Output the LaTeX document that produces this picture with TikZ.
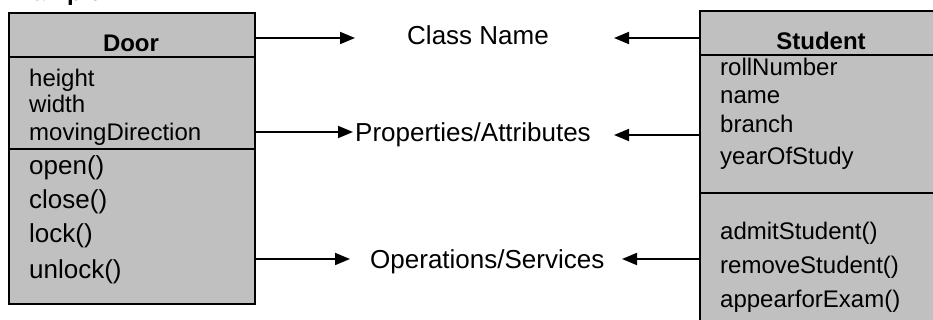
\documentclass[tikz,border=0pt]{standalone}
\usepackage{fontspec}
\setmainfont{Liberation Sans}
\usetikzlibrary{arrows.meta}
\definecolor{boxgray}{HTML}{C0C0C0}
\newcommand\membfont{\fontsize{24}{28}\selectfont}
\newcommand\opfont{\fontsize{26}{30}\selectfont}
\begin{document}
\begin{tikzpicture}[x=1pt,y=-1pt,
  classbox/.style={draw=black, line width=2pt, fill=boxgray, inner sep=0pt, anchor=north west},
  sepline/.style={line width=2pt},
  title/.style={anchor=base, inner sep=0pt, font=\membfont\bfseries},
  member/.style={anchor=base west, inner sep=0pt, font=\membfont},
  doorop/.style={anchor=base west, inner sep=0pt, font=\opfont},
  role/.style={anchor=base west, inner sep=0pt, font=\opfont},
  link/.style={line width=1.8pt, -{Triangle[length=15pt,width=12pt]}}]
\useasboundingbox (0,0) rectangle (933,320);
\clip (0,0) rectangle (933,320);

% heading
\node[anchor=base west, inner sep=0pt, font=\membfont\bfseries] (example) at (3,1) {Example:};

% class boxes
\node[classbox, minimum width=246pt, minimum height=291pt] (door) at (8,12) {};
\node[classbox, minimum width=244pt, minimum height=330pt] (student) at (699,10) {};

% compartment rules
\draw[sepline] (door.north west) ++(0,45) -- ++(246,0);
\draw[sepline] (door.north west) ++(0,137) -- ++(246,0);
\draw[sepline] (student.north west) ++(0,45) -- ++(244,0);
\draw[sepline] (student.north west) ++(0,183) -- ++(244,0);

% Door contents
\node[title] (doorname) at (131,52) {Door};
\node[member] (d1) at (29,87) {height};
\node[member] (d2) at (29,113) {width};
\node[member] (d3) at (29,141) {movingDirection};
\node[doorop] (d4) at (29,175) {open()};
\node[doorop] (d5) at (29,209) {close()};
\node[doorop] (d6) at (29,243) {lock()};
\node[doorop] (d7) at (29,278) {unlock()};

% Student contents
\node[title] (studentname) at (821,50) {Student};
\node[member] (s1) at (720,76) {rollNumber};
\node[member] (s2) at (720,104) {name};
\node[member] (s3) at (720,133) {branch};
\node[member] (s4) at (720,165) {yearOfStudy};
\node[member] (s5) at (720,240) {admitStudent()};
\node[member] (s6) at (720,273) {removeStudent()};
\node[member] (s7) at (720,307) {appearforExam()};

% part names
\node[role] (classname) at (407,45) {Class Name};
\node[role] (props) at (355,142) {Properties/Attributes};
\node[role] (ops) at (370,268) {Operations/Services};

% arrow ends
\coordinate (cnL) at (355,38);
\coordinate (cnR) at (614,38);
\coordinate (prL) at (353,132);
\coordinate (prR) at (614,135);
\coordinate (opL) at (350,259);
\coordinate (opR) at (622,259);

\draw[link] (door.east |- cnL) -- (cnL);
\draw[link] (door.east |- prL) -- (prL);
\draw[link] (door.east |- opL) -- (opL);
\draw[link] (student.west |- cnR) -- (cnR);
\draw[link] (student.west |- prR) -- (prR);
\draw[link] (student.west |- opR) -- (opR);
\end{tikzpicture}
\end{document}
